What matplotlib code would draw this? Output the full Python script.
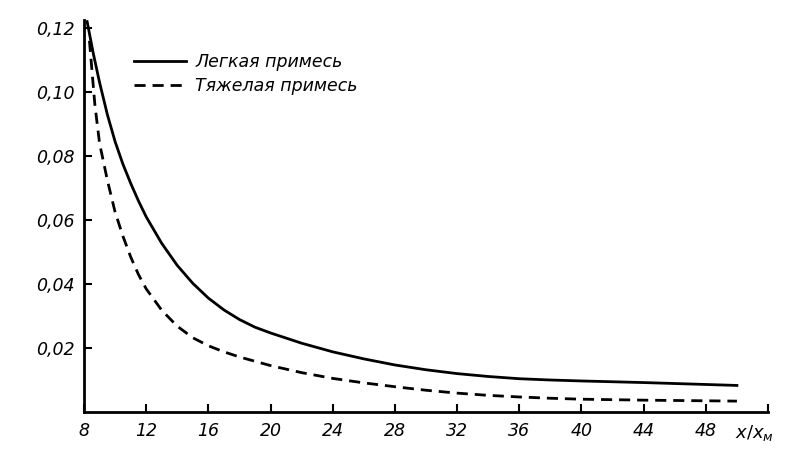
import matplotlib.pyplot as plt

# values
x_light = [8.2, 8.6, 9.0, 9.5, 10.0, 10.5, 11.0, 11.5, 12.0, 13.0, 14.0, 15.0,
           16.0, 17.0, 18.0, 19.0, 20.0, 22.0, 24.0, 26.0, 28.0, 30.0, 32.0,
           34.0, 36.0, 38.0, 40.0, 44.0, 50.0]
y_light = [0.122, 0.112, 0.103, 0.093, 0.0845, 0.0775, 0.0715, 0.066, 0.061,
           0.0527, 0.0458, 0.0402, 0.0356, 0.0319, 0.0289, 0.0265, 0.0247,
           0.0215, 0.0188, 0.0166, 0.0147, 0.0132, 0.0120, 0.0111, 0.0104,
           0.0100, 0.0097, 0.0092, 0.0083]

x_heavy = [8.35, 8.7, 9.0, 9.5, 10.0, 10.5, 11.0, 11.5, 12.0, 13.0, 14.0, 15.0,
           16.0, 17.0, 18.0, 20.0, 22.0, 24.0, 26.0, 28.0, 30.0, 32.0, 34.0,
           36.0, 38.0, 40.0, 44.0, 50.0]
y_heavy = [0.116, 0.096, 0.084, 0.0725, 0.0625, 0.055, 0.0485, 0.043, 0.0385,
           0.0318, 0.0268, 0.0232, 0.0207, 0.0188, 0.0172, 0.0145, 0.0123,
           0.0105, 0.0091, 0.0079, 0.0068, 0.0059, 0.0052, 0.0047, 0.0043,
           0.0040, 0.0037, 0.0034]

xticks = list(range(8, 53, 4))
xlabels = [str(t) for t in xticks[:-1]] + [""]
yticks = [0.02, 0.04, 0.06, 0.08, 0.10, 0.12]
ylabels = ["0,02", "0,04", "0,06", "0,08", "0,10", "0,12"]

fig = plt.figure(figsize=(8.02, 4.51), dpi=100)
ax = fig.add_axes([84 / 802, 39 / 451, (768 - 84) / 802, (412 - 20) / 451])

ax.plot(x_light, y_light, color="black", lw=2.0, label="Легкая примесь")
ax.plot(x_heavy, y_heavy, color="black", lw=2.0, ls=(0, (4, 2.5)),
        label="Тяжелая примесь")

ax.set_xlim(8, 52)
ax.set_ylim(0, 0.1225)
ax.set_xticks(xticks)
ax.set_xticklabels(xlabels, fontsize=12.5, fontstyle="italic")
ax.set_yticks(yticks)
ax.set_yticklabels(ylabels, fontsize=12.5, fontstyle="italic")
ax.tick_params(direction="in", length=6, width=1.5, pad=7)

for s in ["top", "right"]:
    ax.spines[s].set_visible(False)
for s in ["left", "bottom"]:
    ax.spines[s].set_linewidth(2)

ax.legend(loc="upper left", bbox_to_anchor=(0.05, 0.955), frameon=False,
          handlelength=3.0, handletextpad=0.55, labelspacing=0.35,
          prop={"size": 12.5, "style": "italic"})

fig.text(735 / 802, 1 - 433 / 451, "$x/x_{м}$", fontsize=13, va="center")

plt.savefig("out.png", dpi=100)
